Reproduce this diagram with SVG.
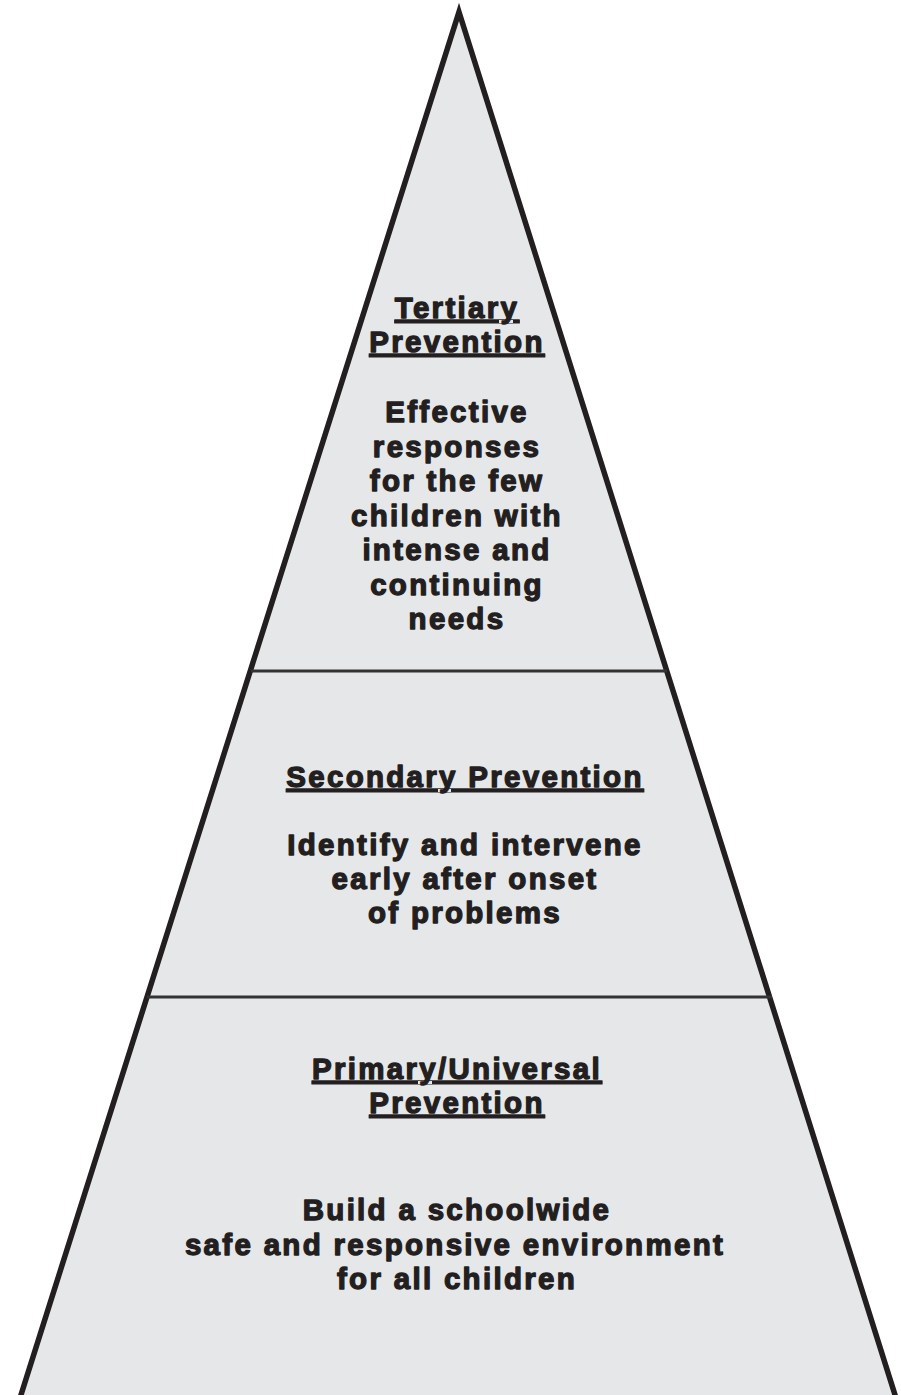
<svg xmlns="http://www.w3.org/2000/svg" width="901" height="1395" viewBox="0 0 901 1395">
  <style>
    .t { font-family: "Liberation Sans", Arial, sans-serif; font-weight: bold; font-size: 29.5px; letter-spacing: 2.3px; fill: #231f20; stroke: #231f20; stroke-width: 1.3px; stroke-linejoin: round; text-anchor: middle; }
    .u { text-decoration: underline; }
    .div { stroke: #333333; stroke-width: 3; }
  </style>
  <rect x="0" y="0" width="901" height="1395" fill="#ffffff"/>
  <g id="pyramid">
    <polygon points="459,12 896,1398 20,1398" fill="#e6e7e9" stroke="#231f20" stroke-width="5.5" stroke-linejoin="miter"/>
  </g>
  <g id="dividers">
    <line class="div" x1="251" y1="671" x2="667" y2="671"/>
    <line class="div" x1="147" y1="997" x2="772" y2="997"/>
  </g>
  <g id="tertiary">
    <text class="t u" x="457" y="318">Tertiary</text>
    <text class="t u" x="457" y="352">Prevention</text>
    <text class="t" x="457" y="422">Effective</text>
    <text class="t" x="457" y="457">responses</text>
    <text class="t" x="457" y="491">for the few</text>
    <text class="t" x="457" y="526">children with</text>
    <text class="t" x="457" y="560">intense and</text>
    <text class="t" x="457" y="595">continuing</text>
    <text class="t" x="457" y="629">needs</text>
  </g>
  <g id="secondary">
    <text class="t u" x="465" y="787">Secondary Prevention</text>
    <text class="t" x="465" y="855">Identify and intervene</text>
    <text class="t" x="465" y="889">early after onset</text>
    <text class="t" x="465" y="923">of problems</text>
  </g>
  <g id="primary">
    <text class="t u" x="457" y="1079">Primary/Universal</text>
    <text class="t u" x="457" y="1113">Prevention</text>
    <text class="t" x="457" y="1220">Build a schoolwide</text>
    <text class="t" x="455" y="1255">safe and responsive environment</text>
    <text class="t" x="457" y="1289">for all children</text>
  </g>
</svg>
